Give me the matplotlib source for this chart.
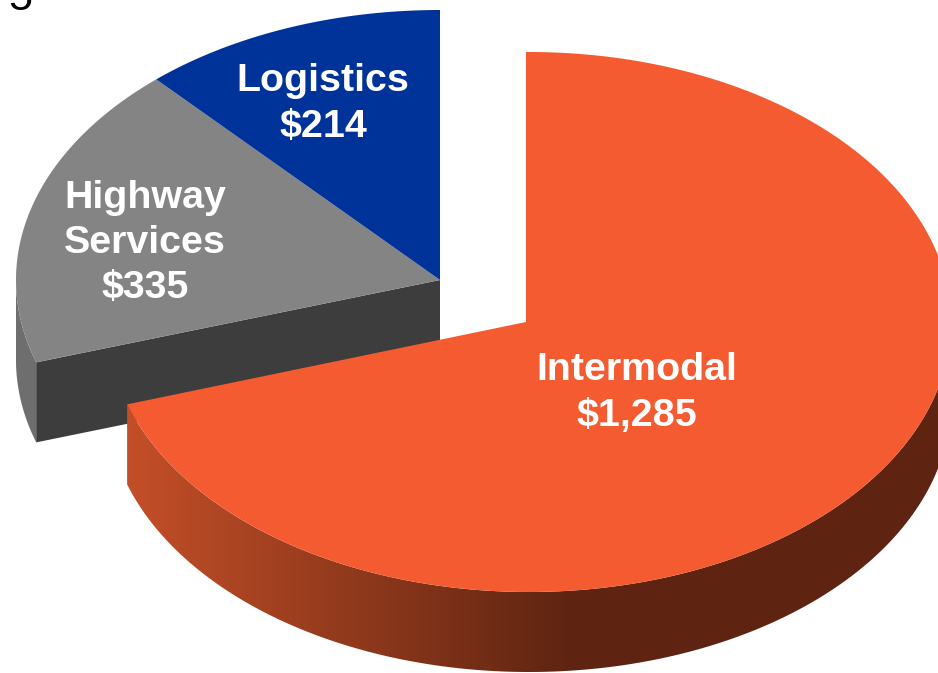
import numpy as np
import matplotlib
matplotlib.use("Agg")
import matplotlib.pyplot as plt
from matplotlib.colors import LinearSegmentedColormap
from matplotlib.patches import Polygon

labels = ["Intermodal\n$1,285", "Logistics\n$214", "Highway\nServices\n$335"]
values = [1285, 214, 335]

ORANGE = "#F55B31"
BLUE = "#003399"
GRAY = "#848484"
DARK = "#3D3D3D"
RIM = "#6E6E6E"

# pie shape, in image pixels
RX = 424
RX_ORANGE = 422
RY = 270
DEPTH = 80
ORANGE_CENTER = (526, 322)
ORANGE_RIM_CENTER = (529, 322)
REST_CENTER = (440, 280)


def rim(center, a0, a1, rx=RX, n=200):
    # angles are degrees clockwise from 12 o'clock
    t = np.radians(np.linspace(a0, a1, n))
    return np.column_stack([center[0] + rx * np.sin(t), center[1] - RY * np.cos(t)])


def add_poly(pts, color):
    p = Polygon(pts, closed=True, facecolor=color, edgecolor="none")
    ax.add_patch(p)
    return p


def wall(center, a0, a1, rx=RX):
    top = rim(center, a0, a1, rx)
    return np.vstack([top, (top + [0, DEPTH])[::-1]])


fig = plt.figure(figsize=(9.38, 6.73), dpi=100)
ax = fig.add_axes([0, 0, 1, 1])
ax.set_xlim(0, 938)
ax.set_ylim(673, 0)
ax.axis("off")

total = sum(values)
orange_sweep = values[0] / total * 360
logistics_sweep = values[1] / total * 360
highway_sweep = values[2] / total * 360

# small piece, going counter clockwise from the top
a_blue = 360 - logistics_sweep
a_gray = a_blue - highway_sweep

# gray + blue slices
add_poly(wall(REST_CENTER, a_gray, 270), RIM)
end = rim(REST_CENTER, a_gray, a_gray, n=1)[0]
add_poly([REST_CENTER, (REST_CENTER[0], REST_CENTER[1] + DEPTH),
          (end[0], end[1] + DEPTH), end], DARK)
add_poly(np.vstack([[REST_CENTER], rim(REST_CENTER, a_gray, a_blue)]), GRAY)
add_poly(np.vstack([[REST_CENTER], rim(REST_CENTER, a_blue, 360)]), BLUE)

# big slice with shaded side
side = add_poly(wall(ORANGE_RIM_CENTER, 90, orange_sweep, RX_ORANGE), "none")
shade = LinearSegmentedColormap.from_list("side", ["#C44F28", "#5E2411"])
img = ax.imshow(np.linspace(0, 1, 256).reshape(1, -1), cmap=shade, aspect="auto",
                extent=(125, 575, 673, 300), zorder=1.5)
img.set_clip_path(side)
ax.fill_between([575, 938], 300, 673, color="#5E2411", zorder=1.4, lw=0).set_clip_path(side)
ax.set_xlim(0, 938)
ax.set_ylim(673, 0)
orange_top = rim(ORANGE_RIM_CENTER, 0, orange_sweep, RX_ORANGE)
top = add_poly(np.vstack([[ORANGE_CENTER], [(ORANGE_CENTER[0], orange_top[0][1])], orange_top]), ORANGE)
top.set_zorder(2)

font = dict(color="white", fontweight="bold", fontsize=28.4, family="Liberation Sans",
            ha="center", va="center", linespacing=1.33, zorder=3)
ax.text(637, 393, labels[0], **font)
ax.text(323, 104, labels[1], **font)
ax.text(145, 243, labels[2], **font)

# bit of a cut off character from the slide above
ax.text(20, 10, "5", color="black", fontsize=31, family="Liberation Sans",
        ha="center", va="baseline", clip_on=True)

fig.savefig("out.png", dpi=100)
